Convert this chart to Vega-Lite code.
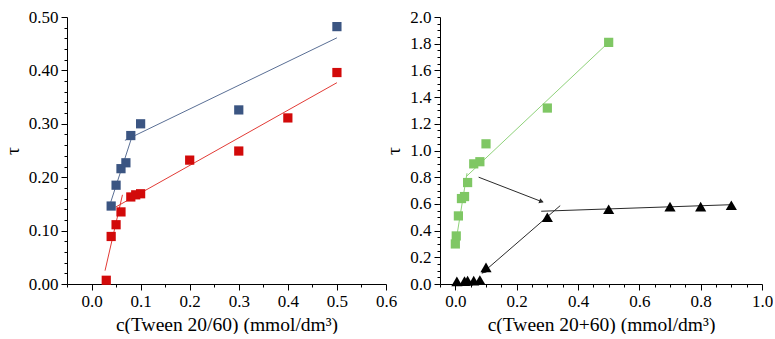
{
  "$schema": "https://vega.github.io/schema/vega-lite/v6.json",
  "padding": {"left": 2, "top": 8, "right": 0, "bottom": 0},
  "spacing": 54,
  "bounds": "flush",
  "background": "white",
  "datasets": {
    "leftPoints": [
      {"x": 0.04, "y": 0.146, "grp": "A"},
      {"x": 0.05, "y": 0.185, "grp": "A"},
      {"x": 0.06, "y": 0.216, "grp": "A"},
      {"x": 0.07, "y": 0.227, "grp": "A"},
      {"x": 0.08, "y": 0.278, "grp": "A"},
      {"x": 0.1, "y": 0.300, "grp": "A"},
      {"x": 0.3, "y": 0.326, "grp": "A"},
      {"x": 0.5, "y": 0.482, "grp": "A"},
      {"x": 0.03, "y": 0.007, "grp": "B"},
      {"x": 0.04, "y": 0.089, "grp": "B"},
      {"x": 0.05, "y": 0.111, "grp": "B"},
      {"x": 0.06, "y": 0.135, "grp": "B"},
      {"x": 0.08, "y": 0.163, "grp": "B"},
      {"x": 0.09, "y": 0.167, "grp": "B"},
      {"x": 0.1, "y": 0.169, "grp": "B"},
      {"x": 0.2, "y": 0.232, "grp": "B"},
      {"x": 0.3, "y": 0.249, "grp": "B"},
      {"x": 0.4, "y": 0.311, "grp": "B"},
      {"x": 0.5, "y": 0.396, "grp": "B"}
    ],
    "leftLines": [
      {"x": 0.039, "y": 0.153, "grp": "A", "seg": "A1"},
      {"x": 0.081, "y": 0.272, "grp": "A", "seg": "A1"},
      {"x": 0.068, "y": 0.269, "grp": "A", "seg": "A2"},
      {"x": 0.5, "y": 0.461, "grp": "A", "seg": "A2"},
      {"x": 0.0275, "y": 0.025, "grp": "B", "seg": "B1"},
      {"x": 0.063, "y": 0.167, "grp": "B", "seg": "B1"},
      {"x": 0.049, "y": 0.144, "grp": "B", "seg": "B2"},
      {"x": 0.5, "y": 0.377, "grp": "B", "seg": "B2"}
    ],
    "greenPoints": [
      {"x": 0.0, "y": 0.30},
      {"x": 0.003, "y": 0.36},
      {"x": 0.01, "y": 0.51},
      {"x": 0.02, "y": 0.64},
      {"x": 0.03, "y": 0.655},
      {"x": 0.04, "y": 0.76},
      {"x": 0.06, "y": 0.90},
      {"x": 0.08, "y": 0.916},
      {"x": 0.1, "y": 1.05},
      {"x": 0.3, "y": 1.318},
      {"x": 0.5, "y": 1.81}
    ],
    "blackPoints": [
      {"x": 0.005, "y": 0.02},
      {"x": 0.03, "y": 0.022},
      {"x": 0.04, "y": 0.025},
      {"x": 0.06, "y": 0.025},
      {"x": 0.08, "y": 0.03},
      {"x": 0.1, "y": 0.125},
      {"x": 0.3, "y": 0.50},
      {"x": 0.5, "y": 0.56},
      {"x": 0.7, "y": 0.58},
      {"x": 0.8, "y": 0.58},
      {"x": 0.9, "y": 0.59}
    ],
    "greenLines": [
      {"x": 0.0, "y": 0.29, "seg": "C1"},
      {"x": 0.038, "y": 0.83, "seg": "C1"},
      {"x": 0.038, "y": 0.81, "seg": "C2"},
      {"x": 0.5, "y": 1.81, "seg": "C2"}
    ],
    "blackLines": [
      {"x": 0.28, "y": 0.545, "seg": "D1"},
      {"x": 0.9, "y": 0.594, "seg": "D1"},
      {"x": 0.342, "y": 0.587, "seg": "D2"},
      {"x": 0.088, "y": 0.082, "seg": "D2"},
      {"x": 0.076, "y": 0.80, "seg": "D3"},
      {"x": 0.284, "y": 0.615, "seg": "D3"}
    ],
    "arrowDown": [{"x": 0.091, "y": 0.09}],
    "arrowRight": [{"x": 0.281, "y": 0.618}]
  },
  "hconcat": [
    {
      "width": 319,
      "height": 267,
      "encoding": {
        "x": {
          "field": "x", "type": "quantitative",
          "scale": {"domain": [-0.05, 0.6], "nice": false, "zero": false},
          "axis": {
            "title": "c(Tween 20/60) (mmol/dm³)",
            "values": [-0.05, 0, 0.05, 0.1, 0.15, 0.2, 0.25, 0.3, 0.35, 0.4, 0.45, 0.5, 0.55, 0.6],
            "labelExpr": "abs(datum.value*10 - round(datum.value*10)) < 0.001 ? format(datum.value, '.1f') : ''",
            "tickSize": {"condition": {"test": "abs(datum.value*10 - round(datum.value*10)) < 0.001", "value": 6}, "value": 3}
          }
        },
        "y": {
          "field": "y", "type": "quantitative",
          "scale": {"domain": [0, 0.5], "nice": false, "zero": false},
          "axis": {
            "title": "τ",
            "values": [0, 0.02, 0.04, 0.06, 0.08, 0.1, 0.12, 0.14, 0.16, 0.18, 0.2, 0.22, 0.24, 0.26, 0.28, 0.3, 0.32, 0.34, 0.36, 0.38, 0.4, 0.42, 0.44, 0.46, 0.48, 0.5],
            "labelExpr": "abs(datum.value*10 - round(datum.value*10)) < 0.001 ? format(datum.value, '.2f') : ''",
            "tickSize": {"condition": {"test": "abs(datum.value*10 - round(datum.value*10)) < 0.001", "value": 6}, "value": 3}
          }
        }
      },
      "layer": [
        {
          "data": {"name": "leftLines"},
          "mark": {"type": "line", "strokeWidth": 1},
          "encoding": {
            "detail": {"field": "seg"},
            "color": {"field": "grp", "type": "nominal", "scale": {"domain": ["A", "B"], "range": ["#5a6f95", "#e23b36"]}, "legend": null}
          }
        },
        {
          "data": {"name": "leftPoints"},
          "mark": {"type": "point", "shape": "square", "filled": true, "size": 85, "opacity": 1},
          "encoding": {
            "color": {"field": "grp", "type": "nominal", "scale": {"domain": ["A", "B"], "range": ["#3b5582", "#d20a0a"]}, "legend": null}
          }
        }
      ],
      "resolve": {"scale": {"color": "independent"}}
    },
    {
      "width": 322,
      "height": 267,
      "encoding": {
        "x": {
          "field": "x", "type": "quantitative",
          "scale": {"domain": [-0.05, 1.0], "nice": false, "zero": false},
          "axis": {
            "title": "c(Tween 20+60) (mmol/dm³)",
            "values": [-0.05, 0, 0.05, 0.1, 0.15, 0.2, 0.25, 0.3, 0.35, 0.4, 0.45, 0.5, 0.55, 0.6, 0.65, 0.7, 0.75, 0.8, 0.85, 0.9, 0.95, 1.0],
            "labelExpr": "abs(datum.value*5 - round(datum.value*5)) < 0.001 ? format(datum.value, '.1f') : ''",
            "tickSize": {"condition": {"test": "abs(datum.value*5 - round(datum.value*5)) < 0.001", "value": 6}, "value": 3}
          }
        },
        "y": {
          "field": "y", "type": "quantitative",
          "scale": {"domain": [0, 2.0], "nice": false, "zero": false},
          "axis": {
            "title": "τ",
            "values": [0, 0.05, 0.1, 0.15, 0.2, 0.25, 0.3, 0.35, 0.4, 0.45, 0.5, 0.55, 0.6, 0.65, 0.7, 0.75, 0.8, 0.85, 0.9, 0.95, 1.0, 1.05, 1.1, 1.15, 1.2, 1.25, 1.3, 1.35, 1.4, 1.45, 1.5, 1.55, 1.6, 1.65, 1.7, 1.75, 1.8, 1.85, 1.9, 1.95, 2.0],
            "labelExpr": "abs(datum.value*5 - round(datum.value*5)) < 0.001 ? format(datum.value, '.1f') : ''",
            "tickSize": {"condition": {"test": "abs(datum.value*5 - round(datum.value*5)) < 0.001", "value": 6}, "value": 3}
          }
        }
      },
      "layer": [
        {
          "data": {"name": "greenLines"},
          "mark": {"type": "line", "strokeWidth": 1, "color": "#8fd27a"},
          "encoding": {"detail": {"field": "seg"}}
        },
        {
          "data": {"name": "blackLines"},
          "mark": {"type": "line", "strokeWidth": 1, "color": "#2a2a2a"},
          "encoding": {"detail": {"field": "seg"}}
        },
        {
          "data": {"name": "arrowDown"},
          "mark": {"type": "point", "shape": "triangle-up", "filled": true, "size": 28, "color": "#2a2a2a", "opacity": 1, "angle": 229}
        },
        {
          "data": {"name": "arrowRight"},
          "mark": {"type": "point", "shape": "triangle-up", "filled": true, "size": 28, "color": "#2a2a2a", "opacity": 1, "angle": 111}
        },
        {
          "data": {"name": "greenPoints"},
          "mark": {"type": "point", "shape": "square", "filled": true, "size": 85, "color": "#7fc764", "opacity": 1}
        },
        {
          "data": {"name": "blackPoints"},
          "mark": {"type": "point", "shape": "triangle-up", "filled": true, "size": 125, "color": "#000000", "opacity": 1}
        }
      ]
    }
  ],
  "config": {
    "view": {"stroke": null},
    "axis": {
      "labelFont": "Liberation Serif, Times New Roman, serif",
      "titleFont": "Liberation Serif, Times New Roman, serif",
      "labelFontSize": 17,
      "titleFontSize": 19.5,
      "titleFontWeight": "normal",
      "labelColor": "black",
      "titleColor": "black",
      "domainColor": "black",
      "tickColor": "black",
      "domainWidth": 1,
      "tickWidth": 1,
      "grid": false,
      "labelPadding": 3,
      "labelFlush": false,
      "labelOverlap": false,
      "titlePadding": 6
    }
  }
}
